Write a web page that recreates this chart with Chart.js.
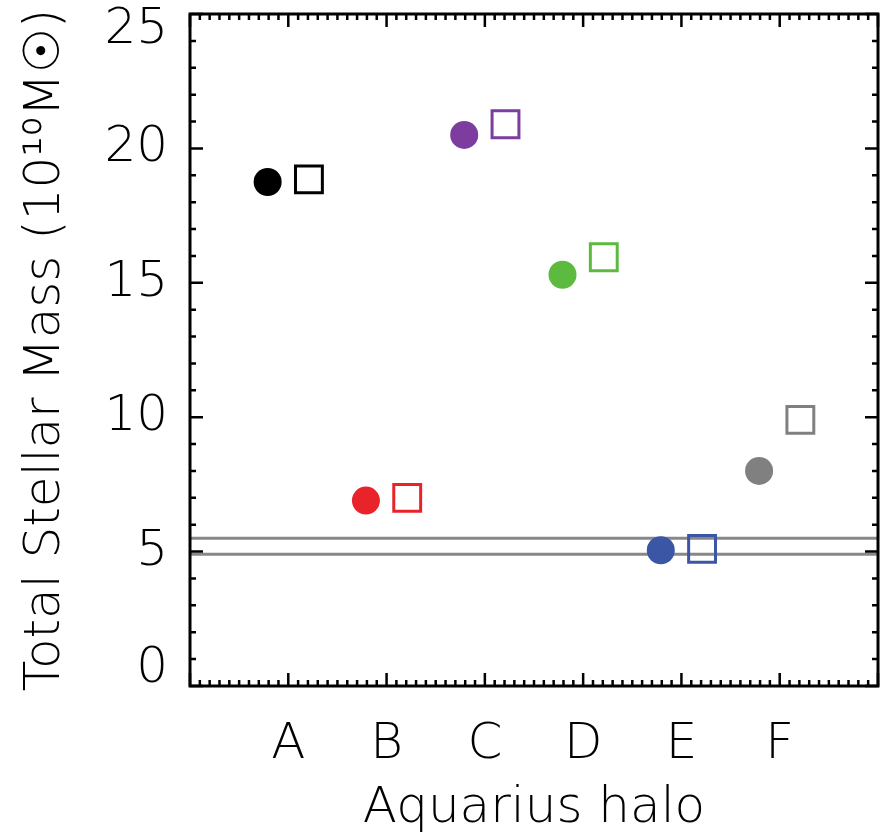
<!DOCTYPE html>
<html>
<head>
<meta charset="utf-8">
<script src="https://cdn.jsdelivr.net/npm/chart.js@4/dist/chart.umd.min.js"></script>
<style>
  html, body { margin: 0; padding: 0; background: #fff; }
</style>
</head>
<body>
<canvas id="grafico_massa" width="885" height="836"></canvas>
<script>
const halos = ['A', 'B', 'C', 'D', 'E', 'F'];
const haloColors = ['#000000', '#e8232a', '#7c3d9e', '#5cbb3f', '#3b56a5', '#808080'];
const massCircles = [18.75, 6.9, 20.5, 15.3, 5.05, 8.0];
const massSquares = [18.85, 7.0, 20.9, 15.95, 5.1, 9.9];
const limitLines = [5.5, 4.9];
const yTicks = [0, 5, 10, 15, 20, 25];

const FONT = "'DejaVu Sans', sans-serif";
const WEIGHT = 200;
const SIZE = 50;

// frame with inward ticks on all four sides
const frame = {
  id: 'frame',
  afterDraw(chart) {
    const { ctx, chartArea: a, scales: { x, y } } = chart;
    ctx.save();
    ctx.strokeStyle = '#000';
    ctx.lineWidth = 2.5;
    ctx.beginPath();
    for (let v = 0; v <= 25; v++) {
      const py = y.getPixelForValue(v);
      const len = yTicks.includes(v) ? 13 : 6;
      ctx.moveTo(a.left, py); ctx.lineTo(a.left + len, py);
      ctx.moveTo(a.right, py); ctx.lineTo(a.right - len, py);
    }
    for (let i = 0; i <= 70; i++) {
      const px = x.getPixelForValue(i / 10);
      const len = i % 10 === 0 ? 13 : 6;
      ctx.moveTo(px, a.bottom); ctx.lineTo(px, a.bottom - len);
      ctx.moveTo(px, a.top); ctx.lineTo(px, a.top + len);
    }
    ctx.stroke();
    ctx.lineWidth = 3;
    ctx.strokeRect(a.left, a.top, a.right - a.left, a.bottom - a.top);
    ctx.restore();
  }
};

const ctx = document.getElementById('grafico_massa').getContext('2d');

const lineSets = limitLines.map(v => ({
  data: [{ x: 0, y: v }, { x: 7, y: v }],
  showLine: true,
  borderColor: '#888888',
  borderWidth: 3,
  pointRadius: 0,
  order: 2
}));

const yMin = yTicks[0];
const yMax = yTicks[yTicks.length - 1];

const chart = new Chart(ctx, {
  type: 'scatter',
  data: {
    datasets: [
      {
        label: 'circles',
        data: massCircles.map((m, i) => ({ x: i + 1 - 0.21, y: m })),
        pointStyle: 'circle',
        pointRadius: 14,
        pointBorderWidth: 0,
        pointBackgroundColor: haloColors,
        pointBorderColor: haloColors,
        order: 0
      },
      {
        label: 'squares',
        data: massSquares.map((m, i) => ({ x: i + 1 + 0.21, y: m })),
        pointStyle: 'rect',
        pointRadius: 19,
        pointBorderWidth: 3,
        pointBackgroundColor: 'rgba(0,0,0,0)',
        pointBorderColor: haloColors,
        order: 1
      },
      ...lineSets
    ]
  },
  options: {
    responsive: false,
    animation: false,
    layout: { autoPadding: false, padding: { top: 14, right: 7, left: 0, bottom: 0 } },
    plugins: {
      legend: { display: false },
      tooltip: { enabled: false }
    },
    scales: {
      x: {
        type: 'linear',
        min: 0,
        max: 7,
        grid: { display: false },
        border: { display: false },
        afterFit: s => { s.height = 150; s.paddingLeft = 0; s.paddingRight = 0; },
        ticks: {
          stepSize: 1,
          autoSkip: false,
          maxRotation: 0,
          padding: 21,
          color: '#000',
          font: { family: FONT, size: SIZE, weight: WEIGHT },
          callback: v => halos[v - 1] ?? ''
        },
        title: {
          display: true,
          text: 'Aquarius halo',
          color: '#000',
          font: { family: FONT, size: SIZE, weight: WEIGHT },
          padding: { top: 0, bottom: -3 }
        }
      },
      y: {
        min: yMin,
        max: yMax,
        grid: { display: false },
        border: { display: false },
        afterFit: s => { s.width = 190; s.paddingTop = 0; s.paddingBottom = 0; },
        afterBuildTicks: s => { s.ticks = yTicks.map(v => ({ value: v })); },
        ticks: {
          padding: 14,
          color: '#000',
          // end labels sit inside the frame, as in the original
          font: c => ({
            family: FONT, size: SIZE, weight: WEIGHT,
            lineHeight: (c.tick && (c.tick.value === yMin || c.tick.value === yMax)) ? 0.66 : 1.2
          }),
          callback: v => v === yMax ? ['', String(v)] : v === yMin ? [String(v), ''] : String(v)
        },
        title: {
          display: true,
          text: 'Total Stellar Mass (10¹⁰M☉)',
          color: '#000',
          font: { family: FONT, size: SIZE, weight: WEIGHT },
          padding: { top: 16, bottom: 0 }
        }
      }
    }
  },
  plugins: [frame]
});
</script>
</body>
</html>
